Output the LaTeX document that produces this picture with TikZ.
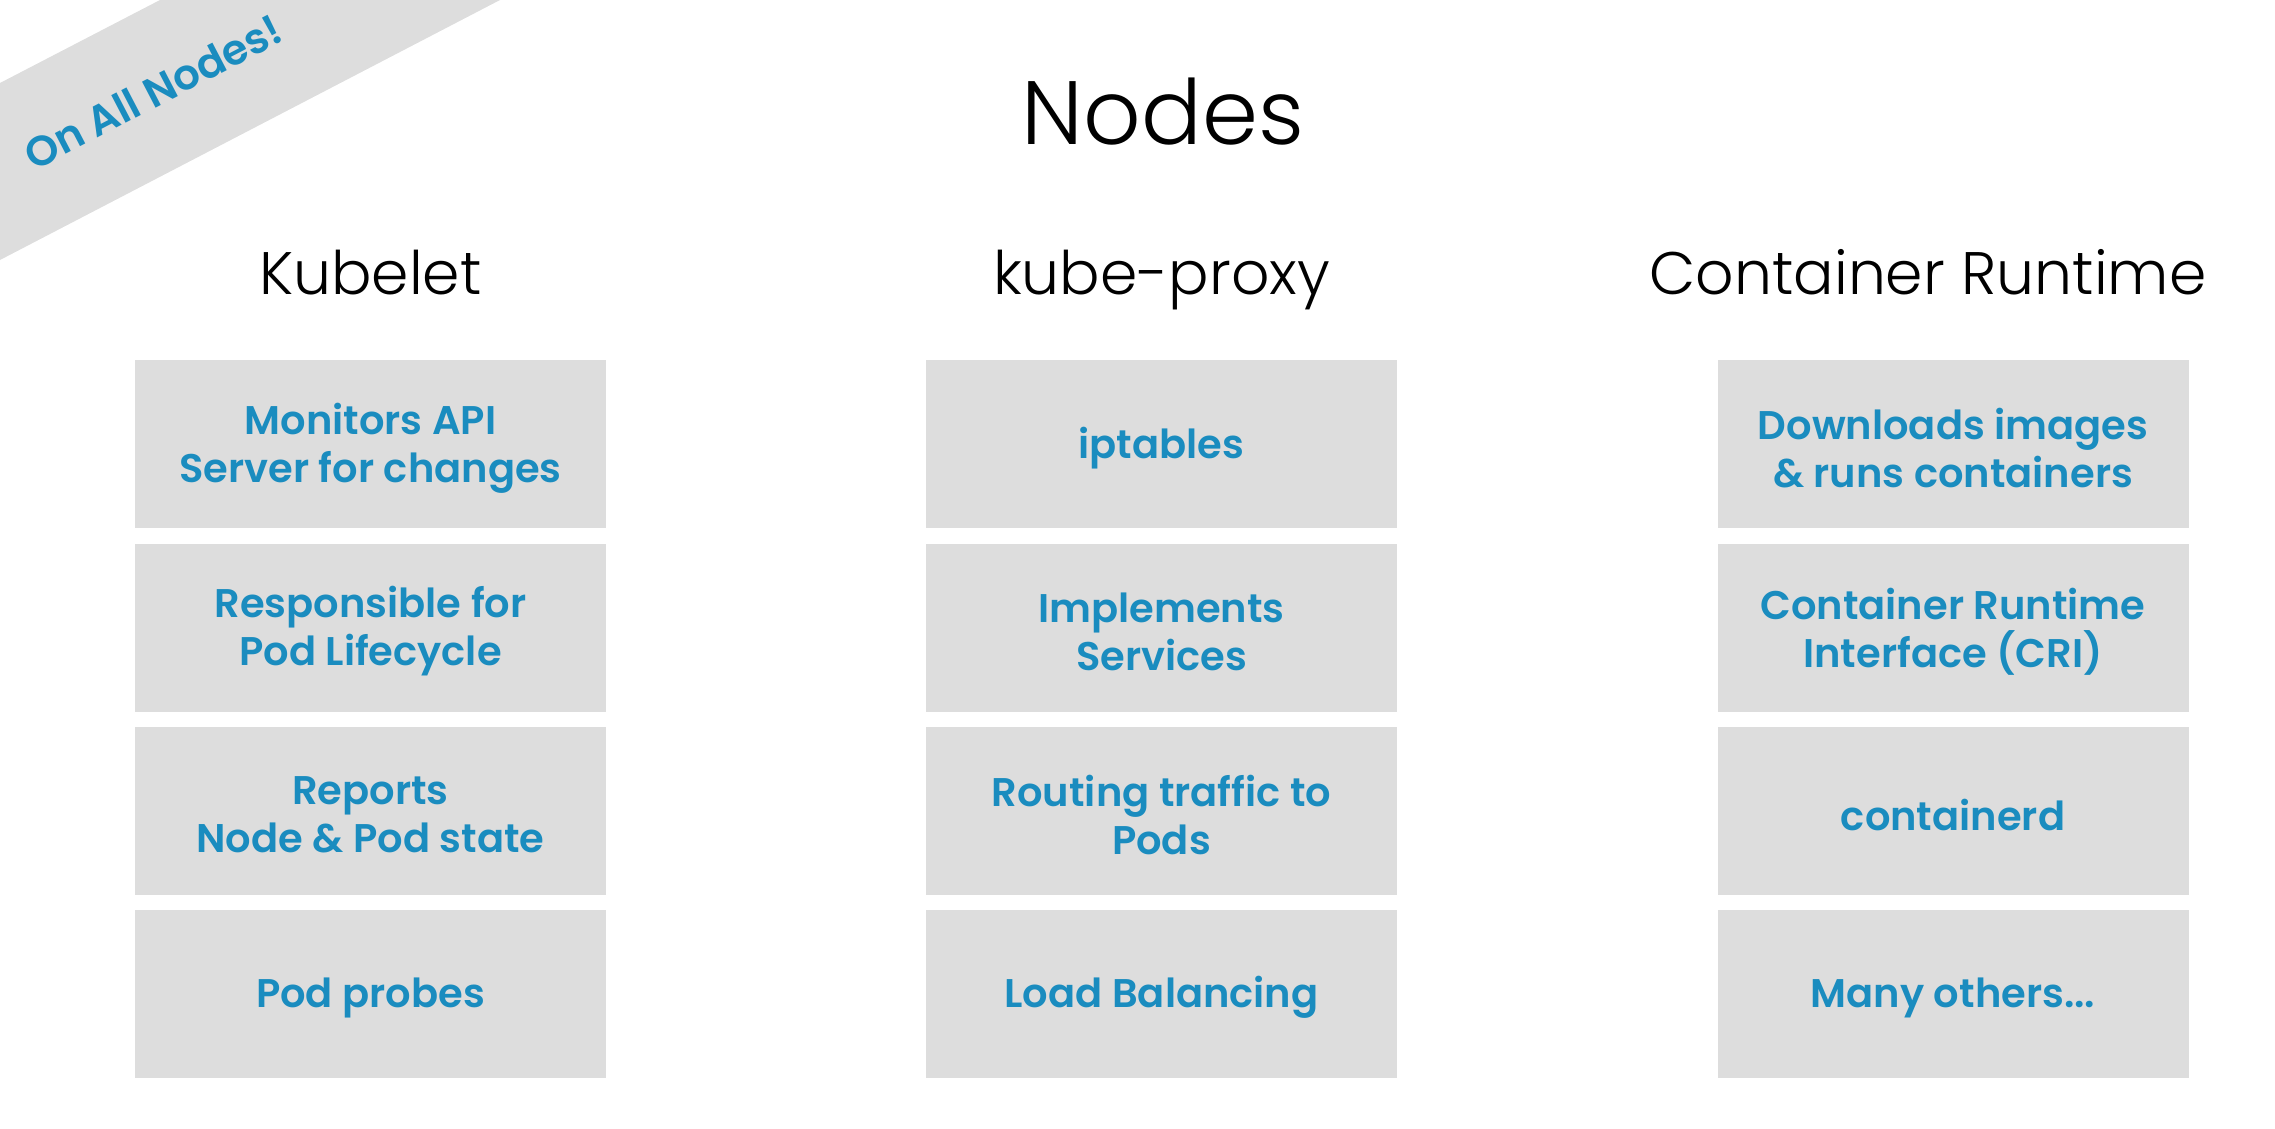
\documentclass[tikz,border=0pt]{standalone}
\usepackage{fontspec}
\IfFontExistsTF{Poppins Light}{\newfontfamily\thinfont{Poppins Light}}{%
  \IfFontExistsTF{Lato Light}{\newfontfamily\thinfont{Lato Light}}{\newfontfamily\thinfont{Fira Sans Light}}}
\IfFontExistsTF{Poppins SemiBold}{\newfontfamily\boldfont{Poppins SemiBold}}{%
  \IfFontExistsTF{Poppins Medium}{\newfontfamily\boldfont{Poppins Medium}}{\newfontfamily\boldfont{Poppins}[BoldFont={* Bold}]}}
\definecolor{boxgray}{HTML}{DDDDDD}
\definecolor{kblue}{HTML}{1A8CBF}
\tikzset{
  itembox/.style={fill=boxgray, draw=none, minimum width=471pt, minimum height=168pt, inner sep=0pt},
  itemtext/.style={inner sep=0pt, align=center, text=kblue, yshift=-4pt,
    font=\boldfont\fontsize{40}{48}\selectfont},
  heading/.style={anchor=base, inner sep=0pt, font=\thinfont\fontsize{60}{66}\selectfont},
  titletext/.style={anchor=base, inner sep=0pt, font=\thinfont\fontsize{90}{96}\selectfont},
  bannertext/.style={inner sep=0pt, text=kblue, rotate=27.5, font=\boldfont\fontsize{42}{46}\selectfont}
}
\newcommand\kitem[3]{\node[itembox] (#1) at #2 {}; \node[itemtext] (#1t) at (#1) {#3};}
\begin{document}
\begin{tikzpicture}[x=1pt,y=-1pt]
\useasboundingbox (0,0) rectangle (2275,1129);
% banner
\fill[boxgray] (0,83) -- (160,0) -- (500,0) -- (0,260) -- cycle;
\node[bannertext] (banner) at (153,92) {On All Nodes!};
% title
\node[titletext] (title) at (1163,145) {Nodes};
% headings
\node[heading] (h1) at (370.5,294) {Kubelet};
\node[heading] (h2) at (1161.5,294) {kube-proxy};
\node[heading] (h3) at (1928,294) {Container Runtime};
% column 1
\kitem{a1}{(370.5,444)}{Monitors API\\Server for changes}
\kitem{a2}{(370.5,627.5)}{Responsible for\\Pod Lifecycle}
\kitem{a3}{(370.5,810.5)}{Reports\\Node \& Pod state}
\kitem{a4}{(370.5,993.5)}{Pod probes}
% column 2
\kitem{b1}{(1161.5,444)}{iptables}
\kitem{b2}{(1161.5,627.5)}{Implements\\Services}
\kitem{b3}{(1161.5,810.5)}{Routing traffic to\\Pods}
\kitem{b4}{(1161.5,993.5)}{Load Balancing}
% column 3
\kitem{c1}{(1953,444)}{Downloads images\\\& runs containers}
\kitem{c2}{(1953,627.5)}{Container Runtime\\Interface (CRI)}
\kitem{c3}{(1953,810.5)}{containerd}
\kitem{c4}{(1953,993.5)}{Many others...}
\end{tikzpicture}
\end{document}
